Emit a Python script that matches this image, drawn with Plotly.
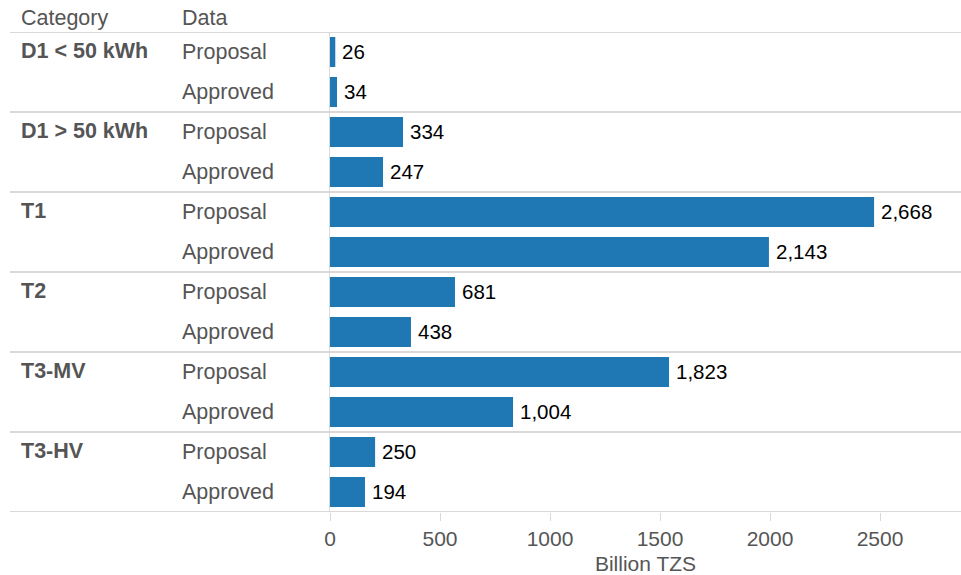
import plotly.graph_objects as go

# categories and row labels
categories = ["D1 < 50 kWh", "D1 > 50 kWh", "T1", "T2", "T3-MV", "T3-HV"]
data_rows = ["Proposal", "Approved"]

# bar lengths (Billion TZS)
proposal_bar = [24, 332, 2473, 568, 1541, 205]
approved_bar = [32, 241, 1995, 368, 832, 159]

# values printed next to the bars
proposal_label = [26, 334, 2668, 681, 1823, 250]
approved_label = [34, 247, 2143, 438, 1004, 194]

tick_vals = [0, 500, 1000, 1500, 2000, 2500]

BLUE = "#1f77b4"
GREY = "#555555"
LINE = "#d9d9d9"
FONT = "Liberation Sans, Arial, sans-serif"

# flatten into one row per bar
rows, bars, labels = [], [], []
for i, cat in enumerate(categories):
    rows += [2 * i, 2 * i + 1]
    bars += [proposal_bar[i], approved_bar[i]]
    labels += [f"{proposal_label[i]:,}", f"{approved_label[i]:,}"]

fig = go.Figure()
fig.add_trace(go.Bar(
    x=bars, y=rows, orientation="h",
    marker=dict(color=BLUE, line=dict(width=0)),
    width=0.75, hoverinfo="skip",
))

annotations = []
# value labels next to bars
for r, b, t in zip(rows, bars, labels):
    annotations.append(dict(text=t, xref="x", yref="y", x=b, y=r,
                            xanchor="left", yanchor="middle", xshift=5, yshift=1,
                            showarrow=False,
                            font=dict(size=20.5, color="#000000", family=FONT)))
# header
CAT_X = -0.4928
DATA_X = -0.2377
annotations.append(dict(text="Category", xref="paper", yref="paper", x=CAT_X, y=1,
                        xanchor="left", yanchor="bottom", yshift=0, showarrow=False,
                        font=dict(size=21.5, color=GREY, family=FONT)))
annotations.append(dict(text="Data", xref="paper", yref="paper", x=DATA_X, y=1,
                        xanchor="left", yanchor="bottom", yshift=0, showarrow=False,
                        font=dict(size=21.5, color=GREY, family=FONT)))
for i, cat in enumerate(categories):
    annotations.append(dict(text="<b>" + cat + "</b>", xref="paper", yref="y",
                            x=CAT_X, y=2 * i, xanchor="left", yanchor="middle",
                            yshift=1, showarrow=False,
                            font=dict(size=21.5, color=GREY, family=FONT)))
    for j, d in enumerate(data_rows):
        annotations.append(dict(text=d, xref="paper", yref="y",
                                x=DATA_X, y=2 * i + j, xanchor="left", yanchor="middle",
                                showarrow=False,
                                font=dict(size=21.5, color=GREY, family=FONT)))

shapes = []
for k in range(len(categories) + 1):
    yy = 2 * k - 0.5
    shapes.append(dict(type="line", xref="paper", yref="y", x0=-0.507, x1=1,
                       y0=yy, y1=yy, line=dict(color=LINE, width=2), layer="below"))

fig.update_layout(
    width=961, height=575,
    margin=dict(l=330, r=0, t=32, b=63),
    plot_bgcolor="white", paper_bgcolor="white",
    showlegend=False,
    annotations=annotations,
    shapes=shapes,
    font=dict(family=FONT, color=GREY),
    xaxis=dict(
        range=[0, 2868], tickvals=tick_vals, showgrid=False, zeroline=False,
        showline=False, ticks="outside", ticklen=8, tickcolor=LINE, tickwidth=1,
        tickfont=dict(size=21, color=GREY, family=FONT),
        title=dict(text="Billion TZS", font=dict(size=21, color=GREY, family=FONT),
                   standoff=8),
    ),
    yaxis=dict(
        range=[11.5, -0.5], showticklabels=False, showgrid=False, zeroline=False,
        showline=True, linecolor=LINE, linewidth=1, ticks="",
    ),
)

fig.write_html("out.html", config={"displayModeBar": False},
               post_script="document.body.style.margin='0';")
